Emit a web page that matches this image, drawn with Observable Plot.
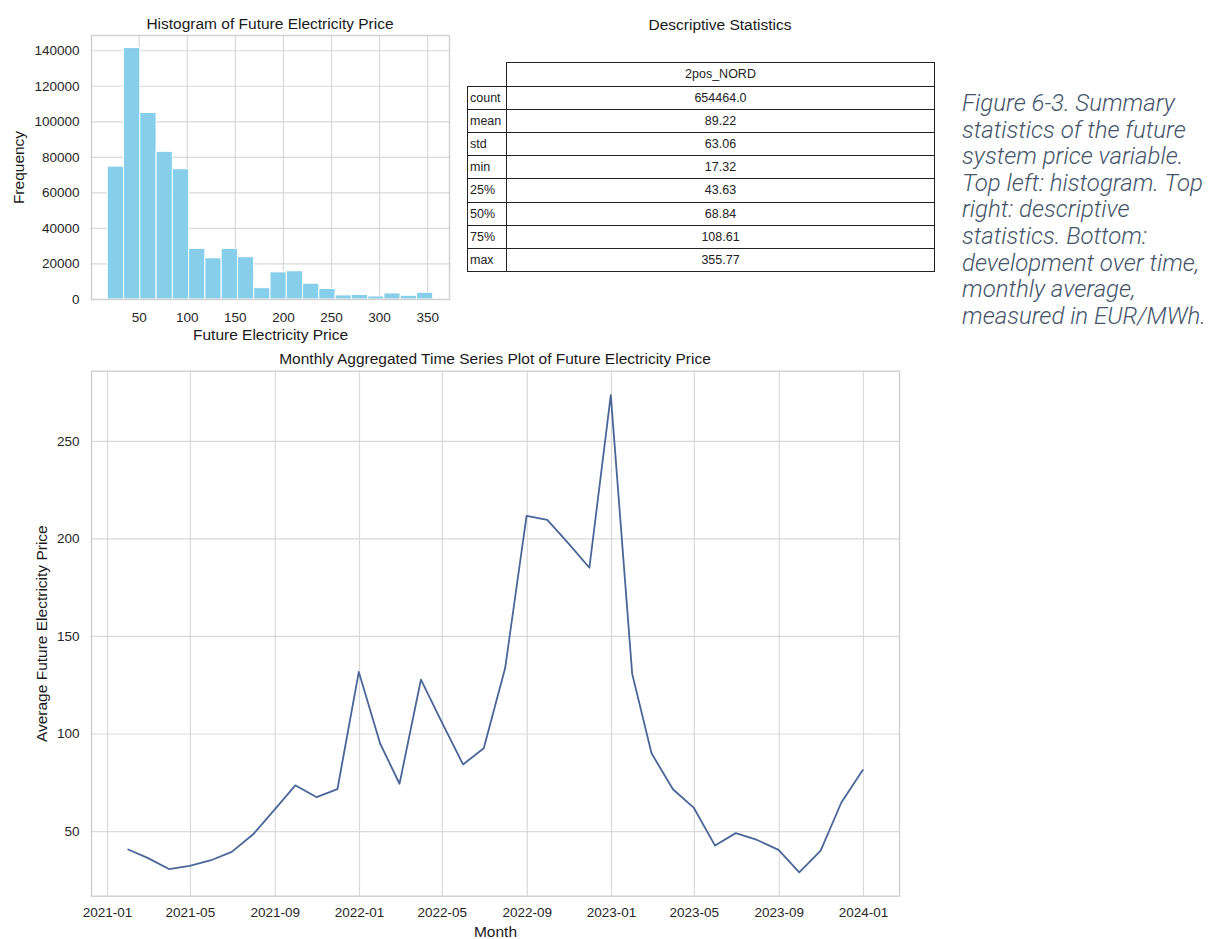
<!DOCTYPE html>
<html>
<head>
<meta charset="utf-8">
<script src="https://cdn.jsdelivr.net/npm/d3@7"></script>
<script src="https://cdn.jsdelivr.net/npm/@observablehq/plot@0.6"></script>
<style>
  body { margin: 0; background: #fff; }
  #page { position: relative; width: 1211px; height: 939px; overflow: hidden;
          font-family: "Liberation Sans", Arial, sans-serif; color: #262626; }
  .panel { position: absolute; }
  .title { position: absolute; transform: translateX(-50%); white-space: nowrap;
           font-size: 15.5px; line-height: 1; color: #1a1a1a; }
  #stats { position: absolute; left: 467px; top: 62px; border-collapse: collapse;
           font-size: 12.5px; color: #222; }
  #stats td, #stats th { border: 1.8px solid #222; padding: 0; font-weight: normal; }
  #stats th { height: 22.6px; text-align: center; }
  #stats th.blank { border: none; }
  #stats td { height: 22.2px; }
  #stats td.lab { width: 36px; text-align: left; padding-left: 2px; }
  #stats td.val { width: 427px; text-align: center; }
  #caption { position: absolute; left: 962px; top: 90px; font-family: Roboto, "Open Sans", sans-serif;
             font-style: italic; font-weight: 300; font-size: 24px; line-height: 26.6px;
             color: #44546a; white-space: nowrap; }
</style>
</head>
<body>
<div id="page"></div>
<script>
// Histogram of the price: 20 equal-width bins between the observed min and max
const histCounts = [74800, 141500, 105000, 83100, 73300, 28500, 23200, 28500, 23800, 6400,
                    15300, 15900, 8900, 5900, 2300, 2600, 1700, 3400, 2100, 3800];
const histXTicks = [50, 100, 150, 200, 250, 300, 350];
const histYTicks = [0, 20000, 40000, 60000, 80000, 100000, 120000, 140000];

// Descriptive statistics table
const statColumn = "2pos_NORD";
const statLabels = ["count", "mean", "std", "min", "25%", "50%", "75%", "max"];
const statValues = ["654464.0", "89.22", "63.06", "17.32", "43.63", "68.84", "108.61", "355.77"];
const priceMin = 17.32;
const priceMax = 355.77;

// Monthly average price (month-end stamps)
const months = ["2021-01","2021-02","2021-03","2021-04","2021-05","2021-06","2021-07","2021-08","2021-09","2021-10","2021-11","2021-12",
                "2022-01","2022-02","2022-03","2022-04","2022-05","2022-06","2022-07","2022-08","2022-09","2022-10","2022-11","2022-12",
                "2023-01","2023-02","2023-03","2023-04","2023-05","2023-06","2023-07","2023-08","2023-09","2023-10","2023-11","2023-12"];
const monthlyPrice = [40.8, 36.5, 30.8, 32.4, 35.3, 39.6, 48.6, 61.2, 73.7, 67.6, 71.7, 131.8,
                      95.0, 74.5, 127.9, 106.2, 84.4, 92.7, 133.8, 211.8, 209.7, 197.6, 185.2, 273.7,
                      130.8, 90.1, 71.7, 62.3, 42.8, 49.2, 45.7, 40.6, 29.1, 40.2, 64.9, 81.5];
const lineXTicks = ["2021-01","2021-05","2021-09","2022-01","2022-05","2022-09","2023-01","2023-05","2023-09","2024-01"];
const lineYTicks = [50, 100, 150, 200, 250];

const captionLines = ["Figure 6-3. Summary", "statistics of the future", "system price variable.",
                      "Top left: histogram. Top", "right: descriptive", "statistics. Bottom:",
                      "development over time,", "monthly average,", "measured in EUR/MWh."];

const page = d3.select("#page");
const baseStyle = { fontFamily: "Liberation Sans, Arial, sans-serif", fontSize: "13.5px",
                    color: "#262626", background: "transparent", overflow: "visible" };
const gridColor = "#d9d9d9";
const frameColor = "#cfcfcf";
const labelSize = 15.5;

function addTitle(text, cx, top) {
  page.append("div").attr("class", "title").style("left", cx + "px").style("top", top + "px").text(text);
}

// Axis titles drawn as text centred on the frame edge
function xLabel(text, dy) {
  return Plot.text([text], { frameAnchor: "bottom", dy, textAnchor: "middle", lineAnchor: "middle",
                             fontSize: labelSize, fill: "#1a1a1a" });
}
function yLabel(text, dx) {
  return Plot.text([text], { frameAnchor: "left", dx, rotate: -90, textAnchor: "middle", lineAnchor: "middle",
                             fontSize: labelSize, fill: "#1a1a1a" });
}

// ---- Histogram ----
const binW = (priceMax - priceMin) / histCounts.length;
const bins = histCounts.map((c, i) => ({ x1: priceMin + i * binW, x2: priceMin + (i + 1) * binW, count: c }));
const xPad = (priceMax - priceMin) * 0.05;
const hist = Plot.plot({
  width: 460, height: 340,
  marginLeft: 91, marginRight: 11, marginTop: 35, marginBottom: 41,
  style: baseStyle,
  x: { domain: [priceMin - xPad, priceMax + xPad] },
  y: { domain: [0, d3.max(histCounts) * 1.05] },
  marks: [
    Plot.gridX(histXTicks, { stroke: gridColor, strokeOpacity: 1, strokeWidth: 1.2 }),
    Plot.gridY(histYTicks, { stroke: gridColor, strokeOpacity: 1, strokeWidth: 1.2 }),
    Plot.rectY(bins, { x1: "x1", x2: "x2", y: "count", fill: "#87ceeb", stroke: "white", strokeWidth: 1 }),
    Plot.frame({ stroke: frameColor, strokeWidth: 1.4 }),
    Plot.axisX(histXTicks, { tickSize: 0, tickPadding: 13, fontSize: 13.5, label: null }),
    Plot.axisY(histYTicks, { tickSize: 0, tickPadding: 12, tickFormat: "d", fontSize: 13.5, label: null }),
    xLabel("Future Electricity Price", 35.5),
    yLabel("Frequency", -72)
  ]
});
page.append("div").attr("class", "panel").style("left", "0px").style("top", "0px").node().appendChild(hist);
addTitle("Histogram of Future Electricity Price", 270, 16);

// ---- Statistics table ----
addTitle("Descriptive Statistics", 720, 16.5);
const table = page.append("table").attr("id", "stats");
const head = table.append("tr");
head.append("th").attr("class", "blank");
head.append("th").text(statColumn);
statLabels.forEach((lab, i) => {
  const tr = table.append("tr");
  tr.append("td").attr("class", "lab").text(lab);
  tr.append("td").attr("class", "val").text(statValues[i]);
});

// ---- Caption ----
page.append("div").attr("id", "caption").html(captionLines.join("<br>"));

// ---- Monthly time series ----
const parseMonth = d3.utcParse("%Y-%m");
const series = months.map((m, i) => ({
  date: d3.utcDay.offset(d3.utcMonth.offset(parseMonth(m), 1), -1),
  price: monthlyPrice[i]
}));
const tMin = series[0].date, tMax = series[series.length - 1].date;
const tPad = (tMax - tMin) * 0.05;
const yMin = d3.min(monthlyPrice), yMax = d3.max(monthlyPrice);
const yPad = (yMax - yMin) * 0.05;
const xTickDates = lineXTicks.map(parseMonth);

const line = Plot.plot({
  width: 911, height: 599,
  marginLeft: 91, marginRight: 12, marginTop: 30.7, marginBottom: 43.3,
  style: baseStyle,
  x: { type: "utc", domain: [new Date(+tMin - tPad), new Date(+tMax + tPad)] },
  y: { domain: [yMin - yPad, yMax + yPad] },
  marks: [
    Plot.gridX(xTickDates, { stroke: gridColor, strokeOpacity: 1, strokeWidth: 1.2 }),
    Plot.gridY(lineYTicks, { stroke: gridColor, strokeOpacity: 1, strokeWidth: 1.2 }),
    Plot.frame({ stroke: frameColor, strokeWidth: 1.4 }),
    Plot.line(series, { x: "date", y: "price", stroke: "#4a6698", strokeWidth: 1.8 }),
    Plot.axisX(xTickDates, { tickSize: 0, tickPadding: 11, tickFormat: d3.utcFormat("%Y-%m"), fontSize: 13.5, label: null }),
    Plot.axisY(lineYTicks, { tickSize: 0, tickPadding: 12, fontSize: 13.5, label: null }),
    xLabel("Month", 35.5),
    yLabel("Average Future Electricity Price", -49)
  ]
});
page.append("div").attr("class", "panel").style("left", "0px").style("top", "340px").node().appendChild(line);
addTitle("Monthly Aggregated Time Series Plot of Future Electricity Price", 495, 350.5);
</script>
</body>
</html>
